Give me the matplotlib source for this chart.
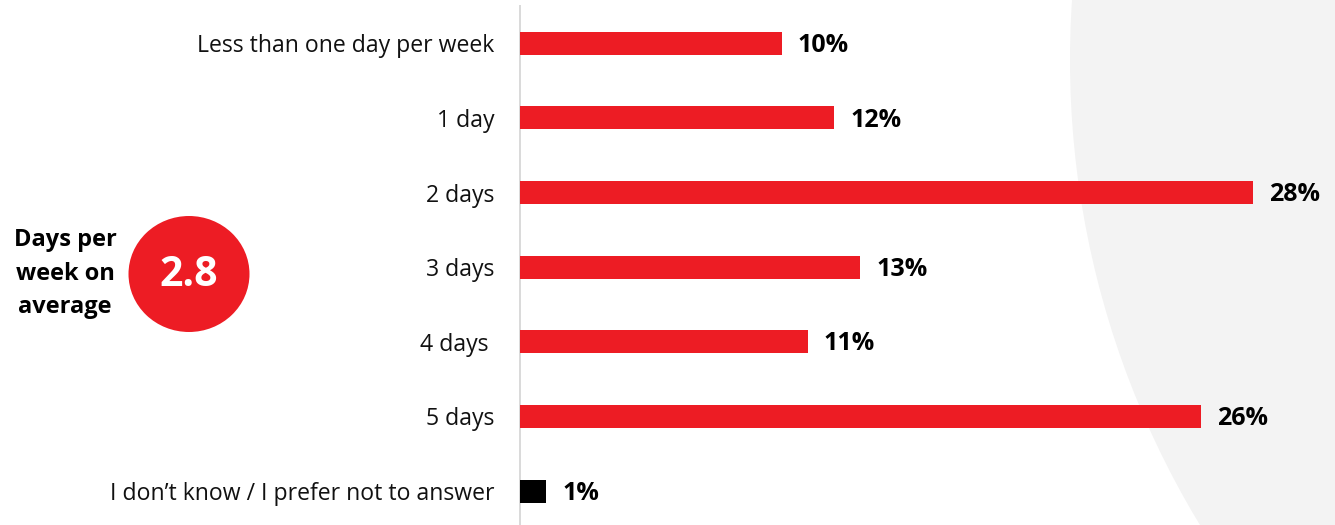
import matplotlib
matplotlib.use("Agg")
import matplotlib.pyplot as plt
from matplotlib.patches import Ellipse

# Survey data: days per week
categories = [
    "Less than one day per week",
    "1 day",
    "2 days",
    "3 days",
    "4 days ",
    "5 days",
    "I don\u2019t know / I prefer not to answer",
]
shares = [10, 12, 28, 13, 11, 26, 1]
bar_colors = ["#ED1C24"] * 6 + ["#000000"]
value_labels = [f"{v}%" for v in shares]

average_days = 2.8
average_caption = ["Days per", "week on", "average"]

plt.rcParams["font.family"] = ["Open Sans", "DejaVu Sans"]

W, H = 1335, 525
fig = plt.figure(figsize=(W / 100, H / 100), dpi=100)
fig.patch.set_facecolor("white")

# soft grey disc in the right background
fig.patches.append(Ellipse((1967 / W, (H - 60) / H), 2 * 897 / W, 2 * 897 / H,
                           transform=fig.transFigure, facecolor="#F3F3F3",
                           edgecolor="none", zorder=-5))

ax = fig.add_axes([520 / W, 0, (W - 520) / W, 519 / H])
ax.set_zorder(1)
ax.patch.set_alpha(0)

y = list(range(len(categories)))
ax.barh(y, shares, height=0.308, color=bar_colors, zorder=3)
for yi, v, lab in zip(y, shares, value_labels):
    ax.annotate(lab, (v, yi), xytext=(11.5, -1.5), textcoords="offset points",
                ha="left", va="center", fontsize=18, fontweight="bold",
                color="black")

ax.set_xlim(0, (W - 520) / 26.18)
ax.set_ylim(6.455, -0.5)
ax.set_yticks(y)
ax.set_yticklabels(categories, fontsize=16.6, color="#111111")
ax.tick_params(axis="y", length=0, pad=18.5)
ax.set_xticks([])
for side in ["top", "right", "bottom"]:
    ax.spines[side].set_visible(False)
ax.spines["left"].set_color("#D9D9D9")
ax.spines["left"].set_linewidth(1.4)

# average badge on the left
fig.patches.append(Ellipse((189 / W, (H - 274) / H), 121 / W, 116 / H,
                           transform=fig.transFigure, facecolor="#ED1C24",
                           edgecolor="none", zorder=2))
fig.text(189 / W, (H - 275) / H, f"{average_days}", ha="center", va="center",
         fontsize=29.5, fontweight="bold", color="white", zorder=3)
for line, py in zip(average_caption, [240, 273.5, 307]):
    fig.text(65 / W, (H - py) / H, line, ha="center", va="center",
             fontsize=17, fontweight="bold", color="black")

fig.savefig("out.png", dpi=100, facecolor="white")
